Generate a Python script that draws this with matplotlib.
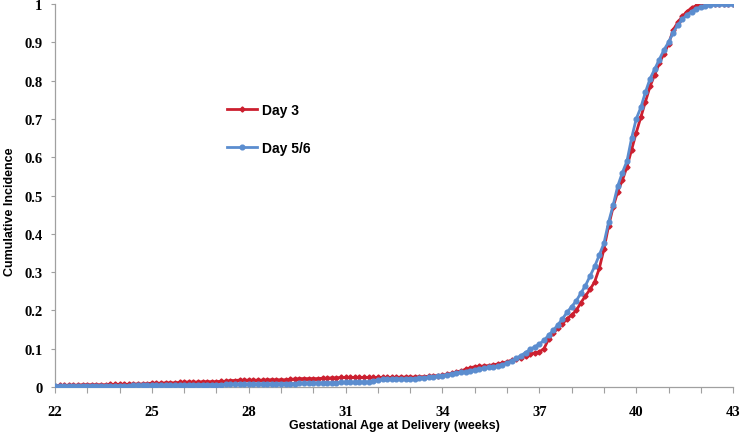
import numpy as np
import matplotlib
matplotlib.use("Agg")
from matplotlib import pyplot as plt

# one value per day, 22 + 0/7 ... 43 weeks
day3 = [
    0.003, 0.004, 0.004, 0.005, 0.005, 0.005, 0.006,  # 22
    0.006, 0.006, 0.006, 0.006, 0.006, 0.007, 0.007,  # 23
    0.007, 0.007, 0.007, 0.008, 0.008, 0.008, 0.009,  # 24
    0.010, 0.010, 0.010, 0.011, 0.011, 0.011, 0.012,  # 25
    0.013, 0.013, 0.013, 0.013, 0.014, 0.014, 0.014,  # 26
    0.014, 0.015, 0.015, 0.017, 0.017, 0.018, 0.018,  # 27
    0.018, 0.018, 0.018, 0.018, 0.019, 0.019, 0.019,  # 28
    0.019, 0.019, 0.020, 0.021, 0.022, 0.022, 0.022,  # 29
    0.022, 0.022, 0.023, 0.023, 0.024, 0.024, 0.025,  # 30
    0.025, 0.025, 0.025, 0.025, 0.025, 0.025, 0.025,  # 31
    0.025, 0.025, 0.025, 0.025, 0.025, 0.026, 0.026,  # 32
    0.026, 0.026, 0.027, 0.027, 0.028, 0.029, 0.030,  # 33
    0.031, 0.033, 0.036, 0.039, 0.042, 0.046, 0.050,  # 34
    0.053, 0.054, 0.055, 0.056, 0.058, 0.060, 0.062,  # 35
    0.066, 0.070, 0.073, 0.077, 0.082, 0.086, 0.089,  # 36
    0.092, 0.100, 0.125, 0.140, 0.153, 0.165, 0.178,  # 37
    0.188, 0.200, 0.220, 0.238, 0.255, 0.275, 0.310,  # 38
    0.360, 0.420, 0.470, 0.510, 0.540, 0.575, 0.620,  # 39
    0.664, 0.705, 0.745, 0.785, 0.815, 0.845, 0.870,  # 40
    0.895, 0.932, 0.952, 0.968, 0.980, 0.990, 0.995,  # 41
    0.998, 1.000, 1.000, 1.000, 1.000, 1.000, 1.000,  # 42
    1.000,                                            # 43
]

day56 = [
    0.002, 0.002, 0.002, 0.002, 0.002, 0.003, 0.003,  # 22
    0.003, 0.003, 0.003, 0.003, 0.003, 0.003, 0.003,  # 23
    0.003, 0.003, 0.003, 0.004, 0.004, 0.004, 0.004,  # 24
    0.004, 0.004, 0.005, 0.005, 0.005, 0.005, 0.005,  # 25
    0.005, 0.005, 0.006, 0.006, 0.006, 0.006, 0.006,  # 26
    0.006, 0.006, 0.007, 0.007, 0.007, 0.007, 0.007,  # 27
    0.007, 0.008, 0.008, 0.008, 0.008, 0.008, 0.008,  # 28
    0.009, 0.009, 0.009, 0.009, 0.010, 0.010, 0.010,  # 29
    0.010, 0.010, 0.011, 0.011, 0.011, 0.011, 0.012,  # 30
    0.012, 0.012, 0.012, 0.013, 0.013, 0.013, 0.015,  # 31
    0.018, 0.020, 0.020, 0.020, 0.021, 0.021, 0.021,  # 32
    0.022, 0.022, 0.023, 0.024, 0.025, 0.026, 0.028,  # 33
    0.030, 0.032, 0.034, 0.036, 0.038, 0.040, 0.043,  # 34
    0.045, 0.047, 0.049, 0.051, 0.053, 0.055, 0.058,  # 35
    0.063, 0.068, 0.075, 0.082, 0.090, 0.098, 0.105,  # 36
    0.112, 0.122, 0.135, 0.148, 0.162, 0.178, 0.195,  # 37
    0.210, 0.225, 0.245, 0.265, 0.290, 0.315, 0.345,  # 38
    0.375, 0.430, 0.475, 0.525, 0.560, 0.590, 0.650,  # 39
    0.700, 0.730, 0.770, 0.805, 0.830, 0.855, 0.880,  # 40
    0.900, 0.925, 0.945, 0.960, 0.972, 0.980, 0.988,  # 41
    0.992, 0.996, 0.998, 1.000, 1.000, 1.000, 1.000,  # 42
    1.000,                                            # 43
]

start_week = 22
end_week = 43
label_weeks = [22, 25, 28, 31, 34, 37, 40, 43]
y_ticks = [0, 0.1, 0.2, 0.3, 0.4, 0.5, 0.6, 0.7, 0.8, 0.9, 1]
y_tick_labels = ["0", "0.1", "0.2", "0.3", "0.4", "0.5", "0.6", "0.7", "0.8", "0.9", "1"]

weeks = start_week + np.arange(len(day3)) / 7.0

fig = plt.figure(figsize=(7.42, 4.35), dpi=100)
ax = fig.add_axes([0.0741, 0.108, 0.9139, 0.8805])

ax.plot(weeks, day3, color="#CC1F2F", lw=2.0, marker="D", ms=2.6,
        mec="#CC1F2F", label="Day 3", zorder=2)
ax.plot(weeks, day56, color="#5B8DCF", lw=2.0, marker="o", ms=3.4,
        mec="#5B8DCF", label="Day 5/6", zorder=3)

ax.set_xlim(start_week, end_week)
ax.set_ylim(0, 1)

ax.set_xticks(np.arange(start_week, end_week + 1))
ax.set_xticklabels([str(w) if w in label_weeks else "" for w in range(start_week, end_week + 1)])
ax.set_yticks(y_ticks)
ax.set_yticklabels(y_tick_labels)

for lab in ax.get_xticklabels() + ax.get_yticklabels():
    lab.set_family("Liberation Serif")
    lab.set_weight("bold")
    lab.set_fontsize(10.5)

ax.tick_params(axis="x", direction="out", length=4, width=0.8, color="#A0A0A0", pad=9)
ax.tick_params(axis="y", direction="out", length=3, width=0.8, color="#A0A0A0", pad=6)

for side in ["top", "right"]:
    ax.spines[side].set_visible(False)
for side in ["left", "bottom"]:
    ax.spines[side].set_color("#A0A0A0")
    ax.spines[side].set_linewidth(0.9)

ax.set_xlabel("Gestational Age at Delivery (weeks)", fontsize=9,
              fontweight="bold", family="Liberation Sans", labelpad=1)
ax.set_ylabel("Cumulative Incidence", fontsize=9, fontweight="bold",
              family="Liberation Sans")
ax.yaxis.set_label_coords(-0.058, 0.46)

leg = ax.legend(loc="center left", bbox_to_anchor=(0.235, 0.674), frameon=False,
                labelspacing=1.7, handlelength=2.2, handletextpad=0.3,
                prop={"family": "Liberation Sans", "weight": "bold", "size": 10})

plt.savefig("out.png", dpi=100)
